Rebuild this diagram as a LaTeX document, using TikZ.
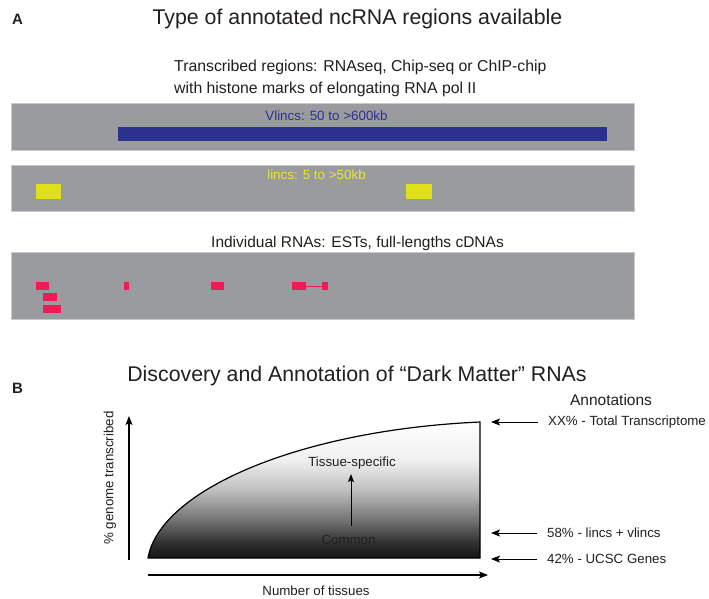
\documentclass[tikz,border=0pt]{standalone}
\usepackage{fontspec}
\setmainfont{Liberation Sans}
\usetikzlibrary{arrows.meta}
\definecolor{barg}{RGB}{154,155,159}
\definecolor{baredge}{RGB}{200,200,203}
\definecolor{vblue}{RGB}{43,49,143}
\definecolor{vtext}{RGB}{46,49,146}
\definecolor{lyel}{RGB}{224,224,26}
\definecolor{ltext}{RGB}{232,232,40}
\definecolor{rred}{RGB}{237,28,86}
\definecolor{txt}{RGB}{35,31,32}
\newcommand{\myfs}[1]{\fontsize{#1}{#1}\selectfont}
\pgfdeclareverticalshading{darkfade}{100bp}{color(0bp)=(black!92); color(25bp)=(black!92); color(31bp)=(black!80); color(39bp)=(black!55); color(50bp)=(black!25); color(61bp)=(black!6); color(75bp)=(white); color(100bp)=(white)}
\begin{document}
\begin{tikzpicture}[x=1pt,y=-1pt,
  lbl/.style={inner sep=0pt, text=txt},
  panel/.style={lbl, font=\myfs{15}\bfseries, anchor=base west},
  ttl/.style={lbl, font=\myfs{21.3}, anchor=base},
  bar/.style={fill=barg, draw=baredge, line width=0.6pt},
  vbox/.style={fill=vblue, draw=none},
  ybox/.style={fill=lyel, draw=none},
  rbox/.style={fill=rred, draw=none},
  small/.style={lbl, font=\myfs{13.3}},
  axis/.style={line width=1.2pt, -{Stealth[length=9pt,width=7pt,inset=2pt]}},
  thin/.style={line width=0.9pt, -{Stealth[length=9pt,width=7pt,inset=2pt]}},
]
\path[use as bounding box, fill=white] (0,0) rectangle (709,598);

% ---------- Panel A ----------
\node[panel] (pA) at (12,24.5) {A};
\node[ttl] (tA) at (357.5,24) {Type of annotated ncRNA regions available};
\node[lbl, font=\myfs{15.8}, anchor=base west, align=left] (sub1) at (174,71) {Transcribed regions: RNAseq, Chip-seq or ChIP-chip};
\node[lbl, font=\myfs{15.8}, anchor=base west, align=left] (sub2) at (174,93) {with histone marks of elongating RNA pol II};

\draw[bar] (11,103) rectangle (634,150);
\node[lbl, font=\myfs{13.4}, text=vtext, anchor=base] (vl) at (326.5,120) {Vlincs: 50 to >600kb};
\fill[vbox] (118,127) rectangle (607,141);

\draw[bar] (11,165) rectangle (634,211);
\node[lbl, font=\myfs{13.4}, text=ltext, anchor=base] (li) at (316.5,179) {lincs: 5 to >50kb};
\fill[ybox] (36,184) rectangle (61,199);
\fill[ybox] (406,184) rectangle (432,199);

\node[lbl, font=\myfs{15.5}, anchor=base west] (ind) at (211,247.5) {Individual RNAs: ESTs, full-lengths cDNAs};
\draw[bar] (11,252) rectangle (634,319);
\fill[rbox] (36,282) rectangle (49,290);
\fill[rbox] (43,293) rectangle (57,301);
\fill[rbox] (43,305) rectangle (61,313);
\fill[rbox] (124,282) rectangle (129,290);
\fill[rbox] (211,282) rectangle (224,290);
\fill[rbox] (292,282) rectangle (306,290);
\fill[rbox] (322,282) rectangle (328,290);
\coordinate (e1) at (306,286);
\coordinate (e2) at (322,286);
\draw[rred, line width=0.8pt] (e1) -- (e2);

% ---------- Panel B ----------
\node[panel] (pB) at (12,393.5) {B};
\node[ttl] (tB) at (357,381) {Discovery and Annotation of “Dark Matter” RNAs};

\path[shading=darkfade, draw=black, line width=1.2pt]
  (148,558) .. controls (160,490) and (300,430) .. (480,422) -- (480,558) -- cycle;

\coordinate (yb) at (129,560);
\coordinate (yt) at (129,416);
\draw[axis] (yb) -- (yt);
\node[small, rotate=90, anchor=center] (ylab) at (110,478) {\% genome transcribed};

\coordinate (xl) at (148,575);
\coordinate (xr) at (488,575);
\draw[axis] (xl) -- (xr);
\node[small, anchor=base] (xlab) at (316,595) {Number of tissues};

\node[small, anchor=base] (ts) at (352,466) {Tissue-specific};
\node[small, anchor=base] (cm) at (348.5,544) {Common};
\coordinate (ia) at (351,526);
\coordinate (ib) at (351,474);
\draw[thin, -{Stealth[length=8pt,width=6pt,inset=1.5pt]}] (ia) -- (ib);

\node[lbl, font=\myfs{15.5}, anchor=base] (ann) at (611,405) {Annotations};
\node[small, anchor=west] (a1) at (548,422) {XX\% - Total Transcriptome};
\node[small, anchor=west] (a2) at (547,533) {58\% - lincs + vlincs};
\node[small, anchor=west] (a3) at (547,559) {42\% - UCSC Genes};
\coordinate (r1) at (491,422);
\coordinate (r2) at (491,533);
\coordinate (r3) at (491,559);
\draw[thin] (a1.west) ++(-10,0) coordinate (s1) (s1) -- (r1);
\draw[thin] (a2.west) ++(-10,0) coordinate (s2) (s2) -- (r2);
\draw[thin] (a3.west) ++(-10,0) coordinate (s3) (s3) -- (r3);
\end{tikzpicture}
\end{document}
